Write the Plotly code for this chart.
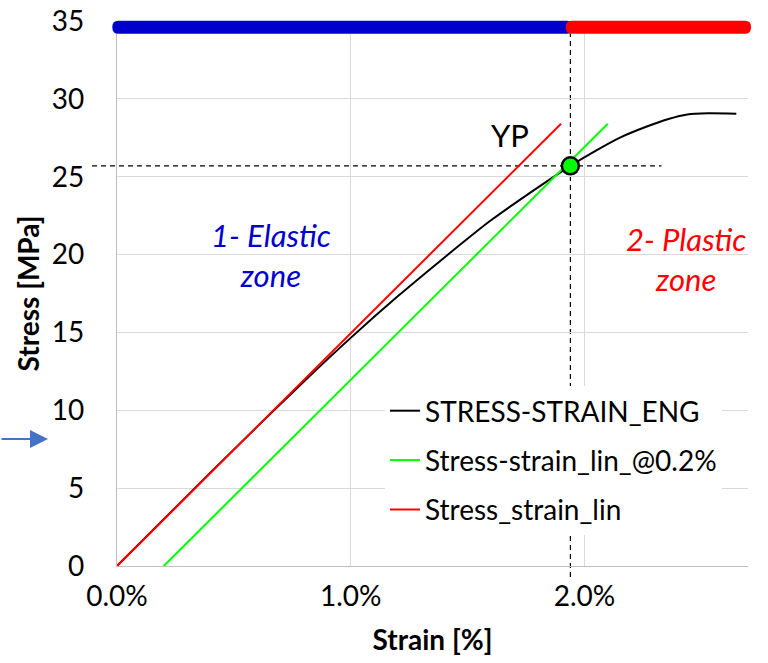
import plotly.graph_objects as go
import numpy as np

# ---------------- data (strain in %, stress in MPa) ----------------
strain_eng = [0.0, 0.2, 0.4, 0.6, 0.8, 1.0, 1.2, 1.4, 1.6, 1.8, 1.94, 2.04, 2.15, 2.27, 2.36, 2.44, 2.53, 2.65]
stress_eng = [0.0, 3.0, 6.0, 8.95, 11.85, 14.65, 17.3, 19.8, 22.2, 24.3, 25.7, 26.6, 27.5, 28.24, 28.71, 29.0, 29.07, 29.05]

strain_lin02 = [0.2, 2.10]
stress_lin02 = [0.0, 28.4]

strain_lin = [0.0, 1.90]
stress_lin = [0.0, 28.4]

yp_strain = [1.94]
yp_stress = [25.7]

series_names = ["STRESS-STRAIN_ENG", "Stress-strain_lin_@0.2%", "Stress_strain_lin"]
x_ticks = [0.0, 0.01, 0.02]
zone_labels = ["1- Elastic<br>zone", "2- Plastic<br>zone"]

X_MAX = 0.027
Y_MAX = 35
FONT = "Lato"

def pct(v):
    return np.array(v) / 100.0

def dx(strain_pct):
    return (strain_pct / 100.0) / X_MAX

def dy(stress):
    return stress / Y_MAX

fig = go.Figure()

fig.add_trace(go.Scatter(x=pct(strain_eng), y=stress_eng, mode="lines", name=series_names[0],
                         line=dict(color="#000000", width=2, shape="spline", smoothing=0.6),
                         legendgroup="a"))
fig.add_trace(go.Scatter(x=pct(strain_lin02), y=stress_lin02, mode="lines", name=series_names[1],
                         line=dict(color="#00FF00", width=2), legendgroup="b"))
fig.add_trace(go.Scatter(x=pct(strain_lin), y=stress_lin, mode="lines", name=series_names[2],
                         line=dict(color="#FF0000", width=2), legendgroup="c"))
fig.add_trace(go.Scatter(x=pct(yp_strain), y=yp_stress, mode="markers", showlegend=False,
                         cliponaxis=False,
                         marker=dict(size=17, color="#00FF00", line=dict(color="#000000", width=2.5))))

# zone bars (top), rounded rectangles in domain coordinates
bar_y = 34.6
bar_h = 0.84
def rrect(x0, x1, y0, y1, rx=6/631, ry=6/545):
    return (f"M {x0+rx},{y0} L {x1-rx},{y0} Q {x1},{y0} {x1},{y0+ry} L {x1},{y1-ry} "
            f"Q {x1},{y1} {x1-rx},{y1} L {x0+rx},{y1} Q {x0},{y1} {x0},{y1-ry} "
            f"L {x0},{y0+ry} Q {x0},{y0} {x0+rx},{y0} Z")

yb0, yb1 = dy(bar_y - bar_h / 2), dy(bar_y + bar_h / 2)
fig.add_shape(type="path", xref="x domain", yref="y domain",
              path=rrect(dx(-0.02), dx(yp_strain[0] + 0.01), yb0, yb1),
              fillcolor="#0000CC", line=dict(width=0), layer="above")
fig.add_shape(type="path", xref="x domain", yref="y domain",
              path=rrect(dx(yp_strain[0] - 0.02), dx(2.713), yb0, yb1),
              fillcolor="#FF0000", line=dict(width=0), layer="above")

# dashed guide lines through the yield point (drawn beneath the traces)
fig.add_shape(type="line", xref="x domain", yref="y domain",
              x0=dx(yp_strain[0]), x1=dx(yp_strain[0]), y0=dy(-0.7), y1=yb0,
              line=dict(color="#000000", width=1.2, dash="5px,4px"), layer="below")
fig.add_shape(type="line", xref="x domain", yref="y domain",
              x0=dx(-0.107), x1=dx(2.33), y0=dy(yp_stress[0]), y1=dy(yp_stress[0]),
              line=dict(color="#000000", width=1.2, dash="5px,4px"), layer="below")

# text annotations
fig.add_annotation(x=0.0066, y=20.0, xref="x", yref="y", text=f"<i>{zone_labels[0]}</i>",
                   showarrow=False, font=dict(family=FONT, size=31, color="#0000CC"))
fig.add_annotation(x=0.02435, y=19.7, xref="x", yref="y", text=f"<i>{zone_labels[1]}</i>",
                   showarrow=False, font=dict(family=FONT, size=31, color="#FF0000"))
fig.add_annotation(x=0.0168, y=27.7, xref="x", yref="y", text="YP",
                   showarrow=False, font=dict(family=FONT, size=31, color="#000000"))

# blue arrow at left edge
fig.add_annotation(x=(48 - 117) / 631, y=(566 - 439) / 545, xref="paper", yref="paper",
                   ax=-48, ay=0, axref="pixel", ayref="pixel", text="", showarrow=True,
                   arrowhead=2, arrowsize=1.8, arrowwidth=2, arrowcolor="#4472C4")

fig.update_layout(
    width=768, height=663,
    margin=dict(l=117, r=20, t=21, b=97),
    paper_bgcolor="white", plot_bgcolor="white",
    font=dict(family=FONT, size=28, color="#000000"),
    showlegend=True,
    legend=dict(x=(385 - 117) / 631, y=(566 - 386) / 545, xanchor="left", yanchor="top",
                bgcolor="white", borderwidth=0, itemwidth=30, traceorder="grouped",
                tracegroupgap=10, font=dict(family=FONT, size=28, color="#000000")),
    xaxis=dict(range=[0, X_MAX], tickvals=x_ticks, tickformat=".1%", showgrid=True,
               gridcolor="#d9d9d9", gridwidth=1.3, zeroline=False, showline=True,
               linecolor="#bfbfbf", linewidth=1.3, ticks="", ticklabelstandoff=5,
               automargin=False, tickfont=dict(family=FONT, size=28),
               title=dict(text="<b>Strain [%]</b>", standoff=19, font=dict(family=FONT, size=28))),
    yaxis=dict(range=[0, Y_MAX], dtick=5, showgrid=True, gridcolor="#d9d9d9", gridwidth=1.3,
               zeroline=False, showline=True, linecolor="#bfbfbf", linewidth=1.3, ticks="",
               ticklabelstandoff=26, automargin=False, tickfont=dict(family=FONT, size=28),
               title=dict(text="<b>Stress [MPa]</b>", standoff=3, font=dict(family=FONT, size=28))),
)

fig.write_html("out.html")
